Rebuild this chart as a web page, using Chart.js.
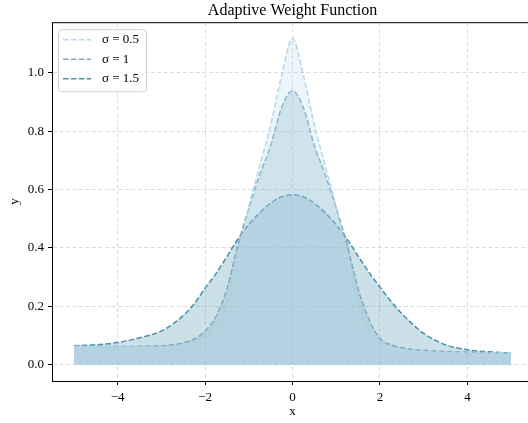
<!DOCTYPE html>
<html lang="en">
<head>
<meta charset="UTF-8">
<title>Adaptive Weight Function</title>
<script src="https://cdn.jsdelivr.net/npm/chart.js"></script>
<style>
  html, body { margin: 0; padding: 0; background: #fff; overflow: hidden; }
  #wrap { position: relative; width: 533px; height: 423px; }
</style>
</head>
<body>
<div id="wrap"><canvas id="weightChart"></canvas></div>
<script>
const xs = [-5, -4.5, -4, -3.5, -3, -2.75, -2.5, -2.25, -2, -1.75, -1.5, -1.25, -1, -0.75, -0.5, -0.25,
            0, 0.25, 0.5, 0.75, 1, 1.25, 1.5, 1.75, 2, 2.25, 2.5, 2.75, 3, 3.5, 4, 4.5, 5];

const seriesLabels = ['σ = 0.5', 'σ = 1', 'σ = 1.5'];

const w05 = [0.062, 0.061, 0.060, 0.060, 0.059, 0.060, 0.063, 0.070, 0.085, 0.110, 0.170, 0.350, 0.540, 0.680, 0.820, 0.990,
             1.117, 0.990, 0.820, 0.680, 0.540, 0.350, 0.170, 0.105, 0.072, 0.058, 0.050, 0.047, 0.045, 0.043, 0.042, 0.041, 0.040];

const w10 = [0.063, 0.062, 0.062, 0.063, 0.065, 0.068, 0.075, 0.088, 0.115, 0.165, 0.260, 0.410, 0.535, 0.650, 0.750, 0.880,
             0.938, 0.880, 0.750, 0.650, 0.535, 0.410, 0.260, 0.155, 0.090, 0.068, 0.058, 0.052, 0.049, 0.045, 0.043, 0.041, 0.040];

const w15 = [0.065, 0.068, 0.076, 0.092, 0.115, 0.138, 0.168, 0.208, 0.262, 0.312, 0.370, 0.430, 0.480, 0.520, 0.553, 0.575,
             0.582, 0.575, 0.553, 0.520, 0.480, 0.430, 0.372, 0.316, 0.266, 0.217, 0.175, 0.138, 0.107, 0.068, 0.051, 0.044, 0.040];

const xTicks = [-4, -2, 0, 2, 4];
const yTicks = [0, 0.2, 0.4, 0.6, 0.8, 1.0];

const lineColors = ['rgb(180,215,230)', 'rgb(125,172,197)', 'rgb(72,145,172)'];
const fillColors = ['rgba(180,215,230,0.25)', 'rgba(125,172,197,0.3)', 'rgba(72,145,172,0.28)'];

const serif = "'Liberation Serif', 'DejaVu Serif', serif";

function makeSet(i, ys) {
  return {
    label: seriesLabels[i],
    data: xs.map((x, k) => ({ x: x, y: ys[k] })),
    borderColor: lineColors[i],
    backgroundColor: fillColors[i],
    borderWidth: 1.5,
    borderDash: [5.5, 2.4],
    pointRadius: 0,
    cubicInterpolationMode: 'monotone',
    fill: 'origin'
  };
}

// top/right spines and the legend inside the plot
const framePlugin = {
  id: 'frame',
  afterDraw(chart) {
    const ctx = chart.ctx, a = chart.chartArea;
    ctx.save();
    ctx.strokeStyle = '#000';
    ctx.lineWidth = 1;
    ctx.beginPath();
    ctx.moveTo(a.left, a.top + 0.5); ctx.lineTo(a.right, a.top + 0.5);
    ctx.moveTo(a.right - 0.5, a.top); ctx.lineTo(a.right - 0.5, a.bottom);
    ctx.stroke();

    const bx = a.left + 6, by = a.top + 7, bw = 88, bh = 62;
    ctx.fillStyle = 'rgba(255,255,255,0.8)';
    ctx.strokeStyle = '#d0d0d0';
    ctx.beginPath();
    ctx.roundRect(bx + 0.5, by + 0.5, bw, bh, 3);
    ctx.fill();
    ctx.stroke();

    ctx.font = '13px ' + serif;
    ctx.textBaseline = 'middle';
    chart.data.datasets.forEach((ds, i) => {
      const y = by + 10.5 + i * 19.5;
      ctx.strokeStyle = ds.borderColor;
      ctx.lineWidth = 1.5;
      ctx.setLineDash(ds.borderDash);
      ctx.beginPath();
      ctx.moveTo(bx + 5, y); ctx.lineTo(bx + 33, y);
      ctx.stroke();
      ctx.setLineDash([]);
      ctx.fillStyle = '#000';
      ctx.fillText(ds.label, bx + 44, y);
    });
    ctx.restore();
  }
};

const gridOpts = {
  color: 'rgba(205,205,205,0.7)',
  tickColor: '#000',
  tickLength: 4,
  tickBorderDash: []
};
const borderOpts = { display: true, color: '#000', width: 1, dash: [4, 2.5] };

new Chart(document.getElementById('weightChart'), {
  type: 'line',
  data: { datasets: [makeSet(0, w05), makeSet(1, w10), makeSet(2, w15)] },
  options: {
    responsive: true,
    maintainAspectRatio: false,
    animation: false,
    layout: { padding: 0 },
    plugins: {
      legend: { display: false },
      tooltip: { enabled: false },
      title: {
        display: true,
        text: 'Adaptive Weight Function',
        fullSize: false,
        color: '#000',
        font: { family: serif, size: 16, weight: 'normal', lineHeight: 1.2 },
        padding: { top: 1, bottom: 2 }
      }
    },
    scales: {
      x: {
        type: 'linear',
        min: -5.5,
        max: 5.5,
        afterBuildTicks: s => { s.ticks = xTicks.map(v => ({ value: v })); },
        afterFit: s => { s.height = 42; },
        ticks: {
          color: '#000',
          font: { family: serif, size: 13 },
          padding: 5,
          maxRotation: 0,
          callback: v => String(v).replace('-', '\u2212')
        },
        grid: gridOpts,
        border: borderOpts,
        title: {
          display: true, text: 'x', color: '#000',
          font: { family: serif, size: 13 },
          padding: { top: 0, bottom: 4 }
        }
      },
      y: {
        type: 'linear',
        min: -0.0559,
        max: 1.1729,
        afterBuildTicks: s => { s.ticks = yTicks.map(v => ({ value: v })); },
        afterFit: s => { s.width = 52; },
        ticks: {
          color: '#000',
          font: { family: serif, size: 13 },
          padding: 4,
          callback: v => v.toFixed(1)
        },
        grid: gridOpts,
        border: borderOpts,
        title: {
          display: true, text: 'y', color: '#000',
          font: { family: serif, size: 13 },
          padding: { top: 7, bottom: 0 }
        }
      }
    }
  },
  plugins: [framePlugin]
});
</script>
</body>
</html>
